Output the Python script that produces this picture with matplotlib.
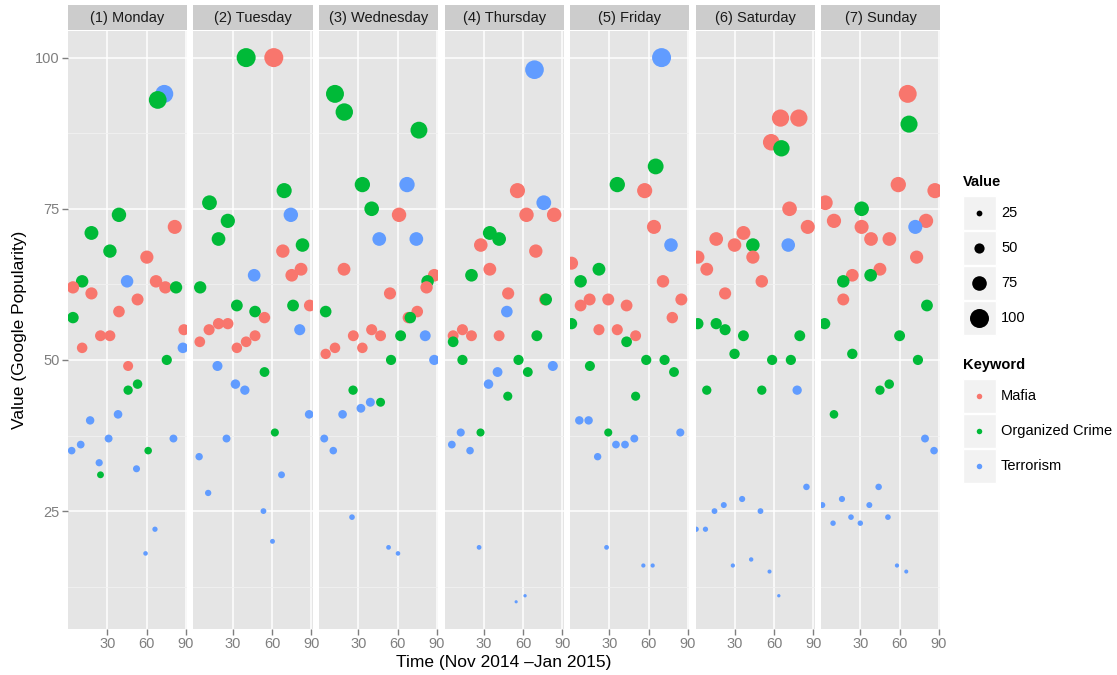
import numpy as np
import matplotlib
matplotlib.use('Agg')
import matplotlib.pyplot as plt
from matplotlib.patches import Rectangle

plt.rcParams['font.family'] = ['Liberation Sans', 'DejaVu Sans']

# ---- data (x = day in period, y = Google popularity), one list per weekday ----
days = ['(1) Monday', '(2) Tuesday', '(3) Wednesday', '(4) Thursday',
        '(5) Friday', '(6) Saturday', '(7) Sunday']
keywords = ['Mafia', 'Organized Crime', 'Terrorism']
colors = ['#F8766D', '#00BA38', '#619CFF']

mafia_x = [
    [3.8, 10.8, 17.9, 24.8, 32.0, 38.9, 45.9, 53.1, 60.2, 67.2, 74.3, 81.5, 88.5],
    [4.8, 11.9, 19.1, 26.2, 33.1, 40.2, 47.0, 54.2, 61.3, 68.2, 75.0, 82.1, 88.8],
    [5.1, 12.2, 19.1, 26.2, 33.1, 40.2, 47.0, 54.2, 61.1, 68.2, 75.0, 82.1, 88.0],
    [6.6, 13.7, 20.6, 27.7, 34.6, 41.7, 48.6, 55.7, 62.6, 69.7, 76.8, 83.7],
    [1.2, 8.1, 15.0, 22.1, 29.2, 36.1, 43.2, 50.1, 57.0, 64.1, 71.0, 78.1, 85.0],
    [1.8, 8.6, 15.8, 22.6, 29.8, 36.6, 43.8, 50.6, 57.8, 64.9, 71.8, 78.9, 85.7],
    [3.3, 9.9, 17.0, 23.9, 31.0, 38.2, 45.0, 52.2, 59.0, 66.2, 73.0, 80.2, 87.0],
]
mafia_y = [
    [62, 52, 61, 54, 54, 58, 49, 60, 67, 63, 62, 72, 55],
    [53, 55, 56, 56, 52, 53, 54, 57, 100, 68, 64, 65, 59],
    [51, 52, 65, 54, 52, 55, 54, 61, 74, 57, 58, 62, 64],
    [54, 55, 54, 69, 65, 54, 61, 78, 74, 68, 60, 74],
    [66, 59, 60, 55, 60, 55, 59, 54, 78, 72, 63, 57, 60],
    [67, 65, 70, 61, 69, 71, 67, 63, 86, 90, 75, 90, 72],
    [76, 73, 60, 64, 72, 70, 65, 70, 79, 94, 67, 73, 78],
]
crime_x = [
    [3.8, 10.8, 17.9, 24.8, 32.0, 38.9, 45.9, 53.1, 61.2, 68.5, 75.4, 82.5],
    [5.1, 12.2, 19.1, 26.2, 33.1, 40.2, 47.0, 54.2, 62.1, 69.2, 76.0, 83.2],
    [5.1, 12.2, 19.3, 26.0, 33.1, 40.2, 47.0, 55.0, 62.3, 69.7, 76.3, 82.9],
    [6.6, 13.7, 20.6, 27.5, 34.6, 41.7, 48.3, 56.5, 63.6, 70.5, 77.5],
    [1.2, 8.1, 15.2, 22.1, 29.2, 36.1, 43.2, 50.1, 58.2, 65.4, 72.2, 79.4],
    [1.8, 8.6, 15.8, 22.6, 29.8, 36.6, 43.8, 50.6, 58.5, 65.6, 72.8, 79.6],
    [2.8, 9.9, 17.0, 23.9, 31.0, 37.9, 45.0, 52.1, 60.0, 67.2, 74.0, 80.9],
]
crime_y = [
    [57, 63, 71, 31, 68, 74, 45, 46, 35, 93, 50, 62],
    [62, 76, 70, 73, 59, 100, 58, 48, 38, 78, 59, 69],
    [58, 94, 91, 45, 79, 75, 43, 50, 54, 57, 88, 63],
    [53, 50, 64, 38, 71, 70, 44, 50, 48, 54, 60],
    [56, 63, 49, 65, 38, 79, 53, 44, 50, 82, 50, 48],
    [56, 45, 56, 55, 51, 54, 69, 45, 50, 85, 50, 54],
    [56, 41, 63, 51, 75, 64, 45, 46, 54, 89, 50, 59],
]
terror_x = [
    [2.8, 9.7, 16.9, 23.8, 31.0, 38.2, 45.1, 52.3, 59.2, 66.4, 73.5, 80.5, 87.7],
    [4.3, 11.2, 18.3, 25.2, 32.0, 39.2, 46.3, 53.4, 60.3, 67.2, 74.3, 81.1, 88.3],
    [4.0, 10.9, 18.0, 25.2, 32.0, 39.2, 46.0, 53.1, 60.3, 67.2, 74.3, 81.1, 88.0],
    [5.6, 12.4, 19.5, 26.4, 33.6, 40.5, 47.6, 54.7, 61.5, 68.7, 75.8, 82.7],
    [7.1, 14.2, 21.1, 27.9, 35.1, 42.0, 49.1, 56.0, 63.1, 69.9, 77.1, 84.2],
    [0.5, 7.6, 14.5, 21.6, 28.5, 35.6, 42.5, 49.6, 56.5, 63.6, 70.8, 77.6, 84.7],
    [1.0, 9.2, 16.0, 22.9, 30.0, 36.9, 44.0, 51.1, 58.0, 65.1, 72.0, 79.4, 86.3],
]
terror_y = [
    [35, 36, 40, 33, 37, 41, 63, 32, 18, 22, 94, 37, 52],
    [34, 28, 49, 37, 46, 45, 64, 25, 20, 31, 74, 55, 41],
    [37, 35, 41, 24, 42, 43, 70, 19, 18, 79, 70, 54, 50],
    [36, 38, 35, 19, 46, 48, 58, 10, 11, 98, 76, 49],
    [40, 40, 34, 19, 36, 36, 37, 16, 16, 100, 69, 38],
    [22, 22, 25, 26, 16, 27, 17, 25, 15, 11, 69, 45, 29],
    [26, 23, 27, 24, 23, 26, 29, 24, 16, 15, 72, 37, 35],
]
size_breaks = [25, 50, 75, 100]

series_x = [mafia_x, crime_x, terror_x]
series_y = [mafia_y, crime_y, terror_y]

# ---- layout (pixels) ----
W, H = 1117, 675
fig = plt.figure(figsize=(W / 100, H / 100), dpi=100)


def fig_rect(x, y, w, h):
    return [x / W, 1 - (y + h) / H, w / W, h / H]


def marker_area(v):
    # ggplot-like radius scale: value 10 -> ~3px, value 100 -> ~19px diameter
    d_px = 19 / 6 * (1 + 5 * (np.asarray(v, dtype=float) - 10) / 90)
    return (d_px * 0.72) ** 2


panel_left, pitch, panel_w = 68, 125.5, 119.2
panel_top, panel_h = 31, 598
grey_txt = '#7F7F7F'

for i, day in enumerate(days):
    x0 = panel_left + i * pitch
    ax = fig.add_axes(fig_rect(x0, panel_top, panel_w, panel_h))
    ax.set_facecolor('#E5E5E5')
    ax.set_xlim(0, 91)
    ax.set_ylim(5.5, 104.4)
    ax.set_xticks([30, 60, 90])
    ax.set_yticks([25, 50, 75, 100])
    ax.set_yticks([12.5, 37.5, 62.5, 87.5], minor=True)
    ax.grid(which='major', color='white', lw=1.1)
    ax.grid(which='minor', axis='y', color='#F2F2F2', lw=0.6)
    ax.set_axisbelow(True)
    for s in ax.spines.values():
        s.set_visible(False)
    ax.tick_params(which='major', colors=grey_txt, length=4, width=1,
                   labelsize=10.5, pad=2)
    ax.tick_params(which='minor', length=0)
    if i > 0:
        ax.tick_params(axis='y', length=0, labelleft=False)

    xs, ys, cs = [], [], []
    for k in range(3):
        xs += series_x[k][i]
        ys += series_y[k][i]
        cs += [colors[k]] * len(series_y[k][i])
    order = np.argsort(-np.array(ys), kind='stable')
    xs = np.array(xs)[order]
    ys = np.array(ys)[order]
    cs = [cs[j] for j in order]
    ax.scatter(xs, ys, s=marker_area(ys), c=cs, linewidths=0, zorder=3)

    # facet strip
    sax = fig.add_axes(fig_rect(x0, 5, panel_w, 25))
    sax.set_facecolor('#CCCCCC')
    sax.set_xticks([])
    sax.set_yticks([])
    for s in sax.spines.values():
        s.set_visible(False)
    sax.text(0.5, 0.48, day, ha='center', va='center', fontsize=10.5,
             color='#1A1A1A', transform=sax.transAxes)

fig.text(504 / W, 1 - 662 / H, 'Time (Nov 2014 \u2013Jan 2015)', ha='center',
         va='center', fontsize=12.5)
fig.text(20 / W, 1 - 330 / H, 'Value (Google Popularity)', ha='center',
         va='center', rotation=90, fontsize=12.5)

# ---- legends drawn in pixel space ----
lax = fig.add_axes([0, 0, 1, 1], facecolor='none')
lax.set_xlim(0, W)
lax.set_ylim(H, 0)
lax.axis('off')

key_x, key_w, key_h = 962.5, 33.5, 34
lax.text(963, 182, 'Value', fontsize=10.5, fontweight='bold', va='center')
for j, v in enumerate(size_breaks):
    top = 196 + j * 35
    lax.add_patch(Rectangle((key_x, top), key_w, key_h, facecolor='#F2F2F2',
                            edgecolor='white', lw=1))
    lax.scatter([key_x + key_w / 2], [top + key_h / 2], s=marker_area(v),
                c='black', linewidths=0)
    lax.text(1001, top + key_h / 2, str(v), fontsize=10.5, va='center')

lax.text(963, 365, 'Keyword', fontsize=10.5, fontweight='bold', va='center')
for j, kw in enumerate(keywords):
    top = 379 + j * 35
    lax.add_patch(Rectangle((key_x, top), key_w, key_h, facecolor='#F2F2F2',
                            edgecolor='white', lw=1))
    lax.scatter([key_x + key_w / 2], [top + key_h / 2], s=(5.5 * 0.72) ** 2,
                c=colors[j], linewidths=0)
    lax.text(1001, top + key_h / 2, kw, fontsize=10.5, va='center')

fig.savefig('out.png', dpi=100)
